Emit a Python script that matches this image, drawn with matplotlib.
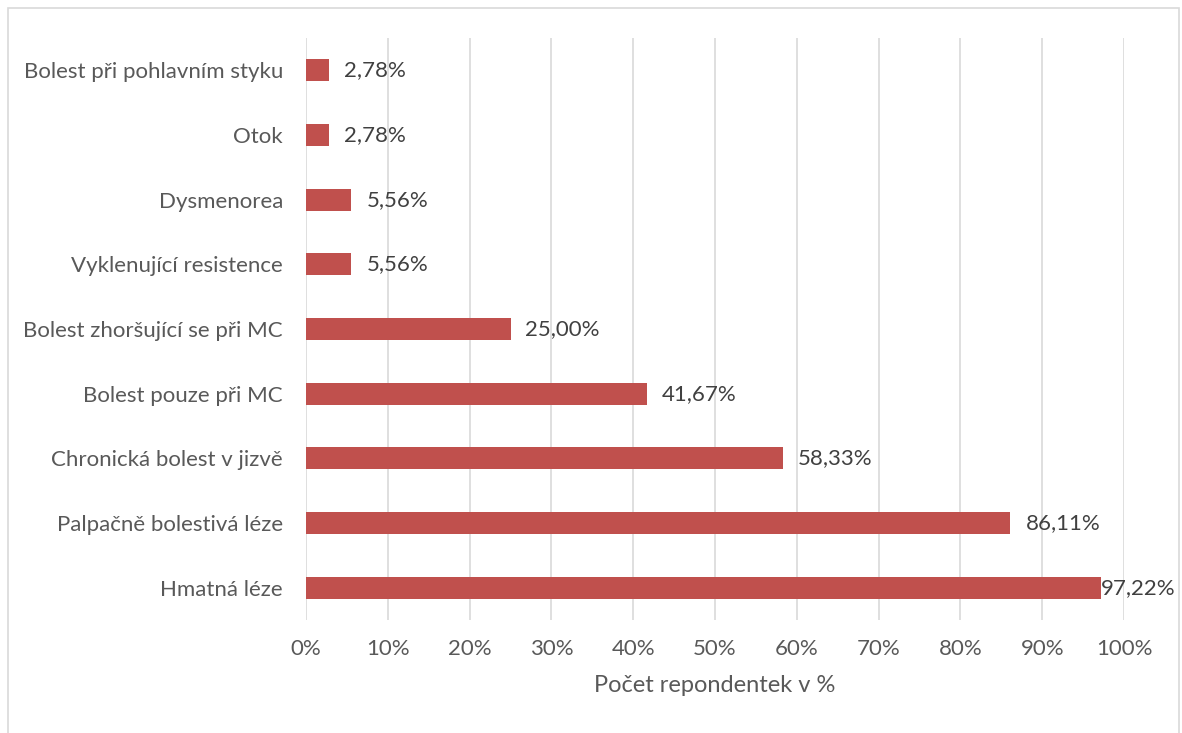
import matplotlib.pyplot as plt
from matplotlib.patches import Rectangle
from matplotlib.ticker import FuncFormatter

# data (bottom to top as drawn)
categories = ["Hmatná léze", "Palpačně bolestivá léze", "Chronická bolest v jizvě",
              "Bolest pouze při MC", "Bolest zhoršující se při MC",
              "Vyklenující resistence", "Dysmenorea", "Otok",
              "Bolest při pohlavním styku"]
values = [97.22, 86.11, 58.33, 41.67, 25.00, 5.56, 5.56, 2.78, 2.78]
xticks = [0, 10, 20, 30, 40, 50, 60, 70, 80, 90, 100]

plt.rcParams['font.family'] = ['Lato', 'DejaVu Sans']
txt = '#595959'

fig = plt.figure(figsize=[11.82, 7.33], dpi=100)
ax = fig.add_axes([306/1182, 1-620/733, 818/1182, 582/733])

# outer chart frame
fig.patches.append(Rectangle((8/1182, -0.1), (1179-8)/1182, 1.1 - 8/733,
                             transform=fig.transFigure, fill=False,
                             edgecolor='#D9D9D9', linewidth=1.2))

ypos = range(len(categories))
ax.barh(ypos, values, height=0.34, color='#C0504D', zorder=3)

for i, v in enumerate(values):
    off = 0 if v > 95 else 15
    ax.annotate(f"{v:.2f}%".replace('.', ','), (v, i), xytext=(off, 0),
                textcoords='offset pixels', va='center', ha='left',
                fontsize=16, color='#404040', zorder=4)

ax.set_xlim(0, 100)
ax.set_ylim(-0.5, len(categories) - 0.5)
ax.set_xticks(xticks)
ax.xaxis.set_major_formatter(FuncFormatter(lambda x, p: f"{x:.0f}%"))
ax.set_yticks(list(ypos))
ax.set_yticklabels(categories)
ax.tick_params(axis='both', length=0, labelsize=16, labelcolor=txt)
ax.tick_params(axis='y', pad=16.5)
ax.tick_params(axis='x', pad=14)
ax.grid(axis='x', color='#D9D9D9', linewidth=1.2, zorder=0)
for s in ax.spines.values():
    s.set_visible(False)

ax.set_xlabel("Počet repondentek v %", fontsize=17, color=txt, labelpad=11)

plt.savefig("out.png", dpi=100)
